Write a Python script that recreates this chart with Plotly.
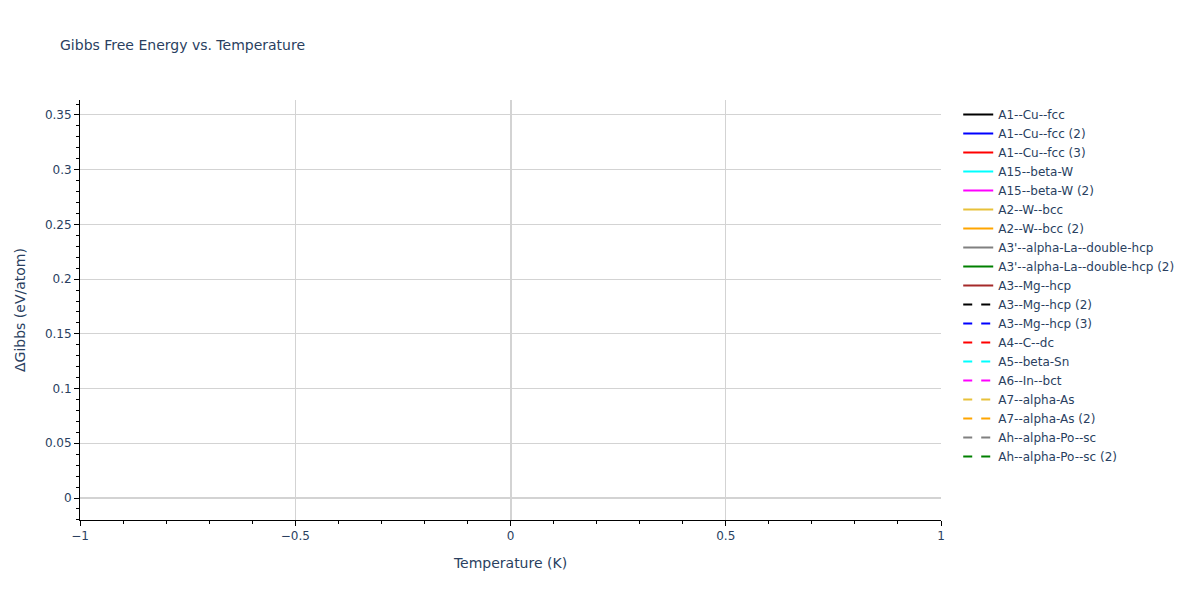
import plotly.graph_objects as go

# phase names, one trace per entry (all evaluated at a single temperature point)
phases = [
    "A1--Cu--fcc", "A1--Cu--fcc (2)", "A1--Cu--fcc (3)",
    "A15--beta-W", "A15--beta-W (2)",
    "A2--W--bcc", "A2--W--bcc (2)",
    "A3'--alpha-La--double-hcp", "A3'--alpha-La--double-hcp (2)",
    "A3--Mg--hcp", "A3--Mg--hcp (2)", "A3--Mg--hcp (3)",
    "A4--C--dc", "A5--beta-Sn", "A6--In--bct",
    "A7--alpha-As", "A7--alpha-As (2)",
    "Ah--alpha-Po--sc", "Ah--alpha-Po--sc (2)",
]
temperatures = [0]
delta_g = [0.0, 0.0, 0.0, 0.08, 0.09, 0.04, 0.05, 0.01, 0.012,
           0.005, 0.006, 0.007, 0.345, 0.3, 0.1, 0.2, 0.21, 0.15, 0.16]

colors = ["black", "blue", "red", "cyan", "magenta", "#E8C13A", "orange",
          "grey", "green", "brown"]

fig = go.Figure()
for i, (name, g) in enumerate(zip(phases, delta_g)):
    fig.add_trace(
        go.Scatter(
            x=temperatures,
            y=[g],
            name=name,
            mode="lines",
            line=dict(color=colors[i % len(colors)], width=2,
                      dash="solid" if i < len(colors) else "dash"),
        )
    )

axis_style = dict(
    showline=True,
    linecolor="black",
    ticks="outside",
    tickcolor="black",
    showgrid=True,
    gridcolor="lightgrey",
    zeroline=True,
    zerolinecolor="lightgrey",
    zerolinewidth=2,
)

fig.update_layout(
    title=dict(text="Gibbs Free Energy vs. Temperature", font=dict(size=14)),
    font=dict(family="Verdana, DejaVu Sans"),
    xaxis_title="Temperature (K)",
    yaxis_title="ΔGibbs (eV/atom)",
    plot_bgcolor="white",
    paper_bgcolor="white",
    width=1200,
    height=600,
    margin=dict(l=80, r=259, t=100, b=80),
    xaxis=dict(range=[-1, 1], dtick=0.5, minor=dict(ticks="outside", dtick=0.1, ticklen=3), **axis_style),
    yaxis=dict(range=[-0.0201, 0.3637], dtick=0.05, minor=dict(ticks="outside", dtick=0.01, ticklen=3), **axis_style),
)

fig.write_html("out.html", config={"displayModeBar": False},
               post_script="document.body.style.margin = '0';")
